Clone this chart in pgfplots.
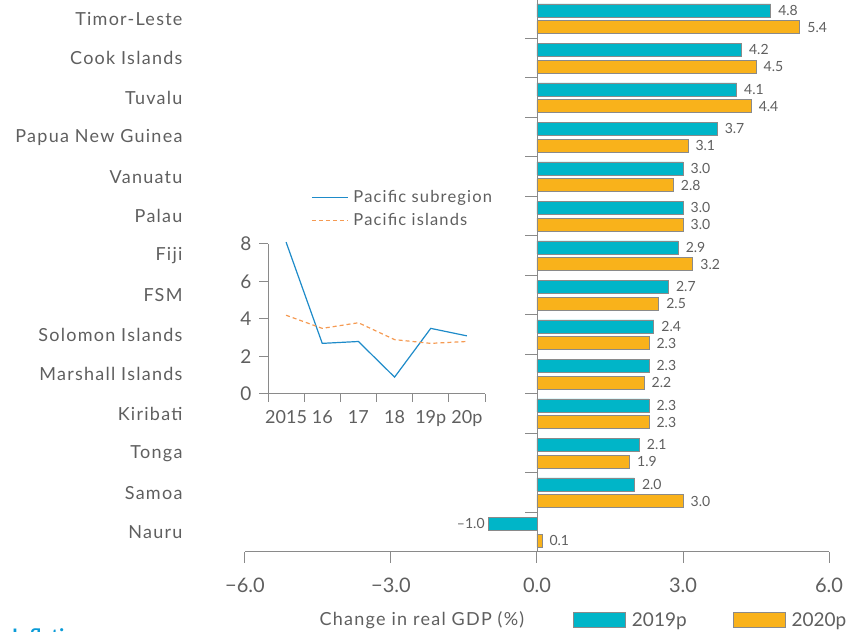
\documentclass[border=0pt]{standalone}
\usepackage{pgfplots}
\pgfplotsset{compat=1.18}
\usepackage{fontspec}
\setmainfont{Lato}
\newfontfamily\lsp{Lato}[LetterSpace=7]
\definecolor{barA}{HTML}{00B5C8}
\definecolor{barB}{HTML}{F9B21B}
\definecolor{txt}{HTML}{5F5F5F}
\definecolor{axisgray}{HTML}{8A8A8A}
\definecolor{lineblue}{HTML}{1E8BC9}
\definecolor{lineorange}{HTML}{F59A52}
\definecolor{infblue}{HTML}{0A9BD7}
\begin{document}
\begin{tikzpicture}[x=1pt,y=1pt]
\useasboundingbox (0,0) rectangle (863,632);
% ---------------- main bar chart ----------------
\begin{axis}[
  at={(245pt,80pt)}, anchor=south west,
  scale only axis, width=584pt, height=553pt,
  xmin=-6, xmax=6, ymin=-0.5, ymax=13.5,
  axis x line*=bottom, axis y line*=left,
  y axis line style={draw=none},
  x axis line style={draw=axisgray, line width=1pt},
  xtick={-6,-3,0,3,6},
  xticklabels={\textminus6.0,\textminus3.0,0.0,3.0,6.0},
  x tick style={draw=axisgray, line width=1pt},
  tick align=outside,
  major tick length=11pt,
  ytick={0,...,13},
  yticklabels={Nauru,Samoa,Tonga,Kiribati,Marshall Islands,Solomon Islands,FSM,Fiji,Palau,Vanuatu,Papua New Guinea,Tuvalu,Cook Islands,Timor-Leste},
  y tick style={draw=none},
  yticklabel style={xshift=-48pt, font=\lsp\fontsize{18}{20}\selectfont, text=txt},
  xticklabel style={font=\fontsize{20}{22}\selectfont, text=txt, yshift=-11pt},
  xlabel={Change in real GDP (\%)},
  xlabel style={at={(axis description cs:0.303,-0.123)}, anchor=center, font=\lsp\fontsize{18}{20}\selectfont, text=txt},
  xbar, bar width=13pt,
  clip=false,
  point meta=explicit symbolic,
  nodes near coords,
  nodes near coords style={font=\fontsize{14}{16}\selectfont, text=txt, anchor=west, xshift=4pt},
  legend columns=2,
  legend image code/.code={\draw[#1, draw=axisgray, line width=0.8pt] (0pt,-7.5pt) rectangle (52pt,7.5pt);},
  legend style={draw=none, fill=none, inner sep=0pt, at={(0.5616,-0.123)}, anchor=west,
    font=\fontsize{19}{20}\selectfont, text=txt,
    /tikz/every odd column/.append style={column sep=4pt},
    /tikz/every even column/.append style={column sep=44pt}},
]
\addplot[fill=barA, draw=axisgray, line width=0.7pt, bar shift=8.3pt]
  coordinates {(2.0,1) [2.0] (2.1,2) [2.1] (2.3,3) [2.3] (2.3,4) [2.3] (2.4,5) [2.4]
  (2.7,6) [2.7] (2.9,7) [2.9] (3.0,8) [3.0] (3.0,9) [3.0] (3.7,10) [3.7]
  (4.1,11) [4.1] (4.2,12) [4.2] (4.8,13) [4.8]};
\addlegendentry{2019p}
\addplot[fill=barB, draw=axisgray, line width=0.7pt, bar shift=-8.3pt]
  coordinates {(0.1,0) [0.1] (3.0,1) [3.0] (1.9,2) [1.9] (2.3,3) [2.3] (2.2,4) [2.2] (2.3,5) [2.3]
  (2.5,6) [2.5] (3.2,7) [3.2] (3.0,8) [3.0] (2.8,9) [2.8] (3.1,10) [3.1]
  (4.4,11) [4.4] (4.5,12) [4.5] (5.4,13) [5.4]};
\addlegendentry{2020p}
\addplot[fill=barA, draw=axisgray, line width=0.7pt, bar shift=8.3pt, forget plot,
  nodes near coords style={anchor=east, xshift=-4pt}]
  coordinates {(-1.0,0) [\textendash1.0]};
\end{axis}
% ---------------- zero line with category separators ----------------
\begin{axis}[
  at={(537pt,80pt)}, anchor=south west,
  scale only axis, width=292pt, height=553pt,
  xmin=0, xmax=6, ymin=-0.5, ymax=13.5,
  hide x axis,
  axis y line*=left,
  y axis line style={draw=axisgray, line width=1pt},
  ytick={-0.5,0.5,...,13.5},
  yticklabels={},
  y tick style={draw=axisgray, line width=1pt},
  tick align=outside, major tick length=12pt,
]
\end{axis}
% ---------------- inset: inflation ----------------
\begin{axis}[
  at={(268pt,238pt)}, anchor=south west,
  scale only axis, width=217pt, height=150pt,
  xmin=-0.5, xmax=5.5, ymin=0, ymax=8,
  axis x line*=bottom, axis y line*=left,
  axis line style={draw=axisgray, line width=1pt},
  xtick={0,...,5}, xticklabels={2015,16,17,18,19p,20p},
  minor xtick={-0.5,0.5,...,5.5},
  ytick={0,2,4,6,8}, yticklabels={0,2,4,6,8},
  tick align=outside,
  major x tick style={draw=none},
  minor x tick style={draw=axisgray, line width=1pt},
  y tick style={draw=axisgray, line width=1pt},
  major tick length=9pt, minor tick length=8pt,
  xticklabel style={font=\fontsize{18}{20}\selectfont, text=txt, yshift=-4pt},
  yticklabel style={font=\fontsize{19}{20}\selectfont, text=txt, xshift=-4pt},
  clip=false,
  legend cell align=left,
  legend style={draw=none, fill=none, inner sep=0pt, at={(0.198,1.37)}, anchor=north west,
    font=\lsp\fontsize{16.5}{18}\selectfont, text=txt, row sep=5pt,
    /tikz/every odd column/.append style={column sep=3pt}},
]
\addlegendimage{legend image code/.code={\draw[draw=lineblue, line width=1.3pt] (0pt,0pt) -- (36pt,0pt);}}
\addlegendentry{Pacific subregion}
\addlegendimage{legend image code/.code={\draw[draw=lineorange, line width=1.2pt, dash pattern=on 4pt off 3pt] (0pt,0pt) -- (36pt,0pt);}}
\addlegendentry{Pacific islands}
\addplot[color=lineblue, line width=1.2pt, forget plot] coordinates {(0,8.1) (1,2.7) (2,2.8) (3,0.9) (4,3.5) (5,3.1)};
\addplot[color=lineorange, line width=1.2pt, dash pattern=on 4pt off 3pt, forget plot] coordinates {(0,4.2) (1,3.5) (2,3.8) (3,2.9) (4,2.7) (5,2.8)};
\end{axis}
\node[anchor=base west, inner sep=0pt, text=infblue, font=\bfseries\fontsize{20}{24}\selectfont] at (12,-12) {Inflation};
\end{tikzpicture}
\end{document}
